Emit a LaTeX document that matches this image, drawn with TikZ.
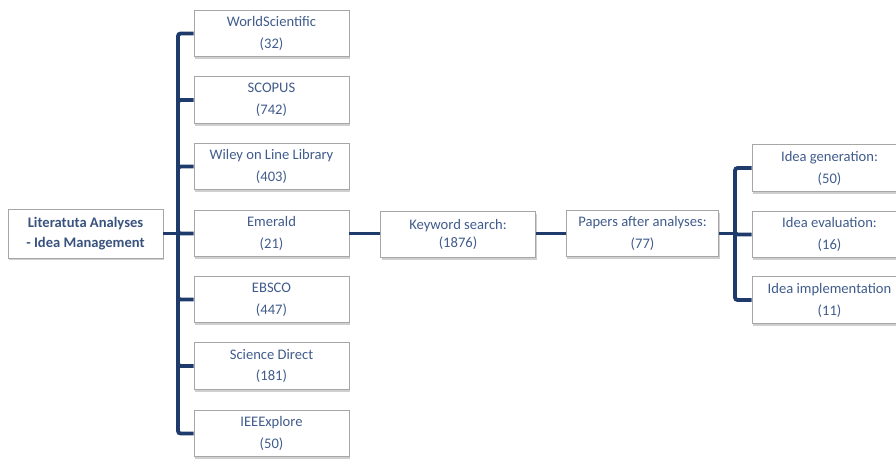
\documentclass[tikz,border=0pt]{standalone}
\usepackage{fontspec}
\setmainfont{Carlito}
\usepackage{tikz}
\usetikzlibrary{shadows}
\definecolor{linkblue}{HTML}{1F3B6B}
\definecolor{labelblue}{HTML}{405C8C}

\begin{document}
\begin{tikzpicture}[x=0.02cm, y=-0.02cm,
  box/.style={draw=gray!70, fill=white, minimum width=3.1cm, minimum height=0.93cm,
    align=center, text=labelblue, font=\fontsize{8.3}{12.5}\selectfont,
    drop shadow={shadow xshift=0.6pt, shadow yshift=-1.4pt, fill=gray!75}},
  link/.style={draw=linkblue, line width=2.2pt}]
\useasboundingbox (0,0) rectangle (896,458);
\clip (0,0) rectangle (896,458);
% root
\node[box, minimum height=0.98cm, font=\bfseries\fontsize{8.3}{11.5}\selectfont, text=labelblue!90!black] (root) at (85.5,233.5) {Literatuta Analyses\\- Idea Management};
% databases
\node[box] (ws) at (271.5,33.5) {WorldScientific\\(32)};
\node[box] (scopus) at (271.5,100) {SCOPUS\\(742)};
\node[box] (wiley) at (271.5,166.5) {Wiley on Line Library\\(403)};
\node[box] (emerald) at (271.5,233.5) {Emerald\\(21)};
\node[box] (ebsco) at (271.5,299.5) {EBSCO\\(447)};
\node[box] (sd) at (271.5,366) {Science Direct\\(181)};
\node[box] (ieee) at (271.5,433.5) {IEEExplore\\(50)};
% search and result
\node[box, font=\fontsize{8.3}{10}\selectfont] (kw) at (458,234.5) {Keyword search:\\(1876)};
\node[box, minimum width=3.05cm] (papers) at (642.5,233.5) {Papers after analyses:\\(77)};
% idea phases
\node[box] (gen) at (829.5,168) {Idea generation:\\(50)};
\node[box] (eval) at (829.5,234.5) {Idea evaluation:\\(16)};
\node[box] (impl) at (829.5,300) {Idea implementation\\(11)};
% connectors
\coordinate (trunk) at (178,233.5);
\coordinate (fork) at (735,233.5);
\draw[link] (root.east) -- (trunk);
\foreach \n in {ws,scopus,wiley,emerald,ebsco,sd,ieee}
  \draw[link, rounded corners=1.5pt] (trunk) |- (\n.west);
\draw[link] (emerald.east) -- (emerald.east -| kw.west);
\draw[link] (kw.east |- papers.west) -- (papers.west);
\draw[link] (papers.east) -- (fork);
\foreach \n in {gen,eval,impl}
  \draw[link, rounded corners=1.5pt] (fork) |- (\n.west);
\end{tikzpicture}
\end{document}
